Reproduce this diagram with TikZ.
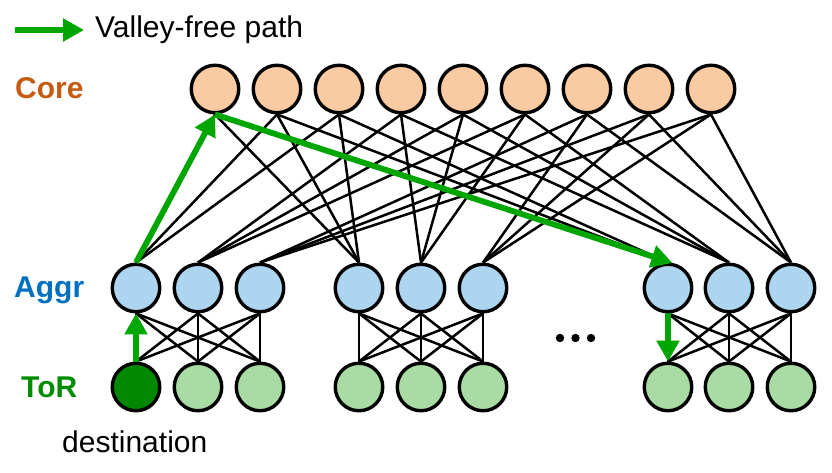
\documentclass[tikz,border=0pt]{standalone}
\usepackage{fontspec}
\setmainfont{Liberation Sans}
\usetikzlibrary{arrows.meta}
\definecolor{corefill}{RGB}{250,203,163}
\definecolor{aggrfill}{RGB}{174,213,240}
\definecolor{torfill}{RGB}{169,219,165}
\definecolor{destfill}{RGB}{0,136,0}
\definecolor{pathgreen}{RGB}{0,166,0}
\definecolor{corelabel}{RGB}{197,90,17}
\definecolor{aggrlabel}{RGB}{0,112,192}
\definecolor{torlabel}{RGB}{0,140,0}
\tikzset{
  sw/.style={circle,draw=black,line width=3.4pt,minimum size=47.5pt,inner sep=0pt},
  corenode/.style={sw,fill=corefill},
  aggrnode/.style={sw,fill=aggrfill},
  tornode/.style={sw,fill=torfill},
  destnode/.style={sw,fill=destfill},
  link/.style={draw=black,line width=2.5pt},
  vfpath/.style={draw=pathgreen,line width=5.8pt,-{Triangle[length=21pt,width=22pt]}},
  lbl/.style={font=\fontsize{30}{36}\selectfont,anchor=base west,inner sep=0pt},
}
\begin{document}
\begin{tikzpicture}[x=1pt,y=-1pt]
\useasboundingbox (0,0) rectangle (832,473);
% legend
\coordinate (l1) at (15,30);
\coordinate (l2) at (84,30);
\draw[vfpath,line width=6.5pt] (l1) -- (l2);
\node[lbl] (leg) at (95,38) {Valley-free path};
% layer labels
\node[lbl,text=corelabel] (lcore) at (15,99) {\bfseries Core};
\node[lbl,text=aggrlabel] (laggr) at (14,297) {\bfseries Aggr};
\node[lbl,text=torlabel] (ltor) at (21,397) {\bfseries ToR};
\node[lbl] (ldest) at (62,452) {destination};
% core
\foreach \i in {1,...,9} {
  \node[corenode] (c\i) at ({215+62*(\i-1)},89) {};
}
% aggr
\foreach \i/\x in {1/136,2/198,3/260,4/359,5/421,6/483,7/668,8/729,9/791} {
  \node[aggrnode] (a\i) at (\x,288) {};
}
% tor
\node[destnode] (t1) at (136,387) {};
\foreach \i/\x in {2/198,3/260,4/359,5/421,6/483,7/668,8/729,9/791} {
  \node[tornode] (t\i) at (\x,387) {};
}
% core-aggr links
\foreach \p in {0,3,6} {
  \foreach \j in {1,2,3} {
    \foreach \k in {1,2,3} {
      \pgfmathtruncatemacro{\ai}{\p+\j}
      \pgfmathtruncatemacro{\ci}{3*(\j-1)+\k}
      \draw[link] (c\ci.south) -- (a\ai.north);
    }
  }
}
% aggr-tor links
\foreach \p in {0,3,6} {
  \foreach \j in {1,2,3} {
    \foreach \k in {1,2,3} {
      \pgfmathtruncatemacro{\ai}{\p+\j}
      \pgfmathtruncatemacro{\ti}{\p+\k}
      \draw[link] (a\ai.south) -- (t\ti.north);
    }
  }
}
% dots
\fill (560,338) circle (4.2pt);
\fill (575.5,338) circle (4.2pt);
\fill (591,338) circle (4.2pt);
% valley-free path
\draw[vfpath] (t1.north) -- (a1.south);
\draw[vfpath] (a1.north) -- (c1.south);
\draw[vfpath] (c1.south) -- (a7.80);
\draw[vfpath] (a7.south) -- (t7.north);
\end{tikzpicture}
\end{document}
